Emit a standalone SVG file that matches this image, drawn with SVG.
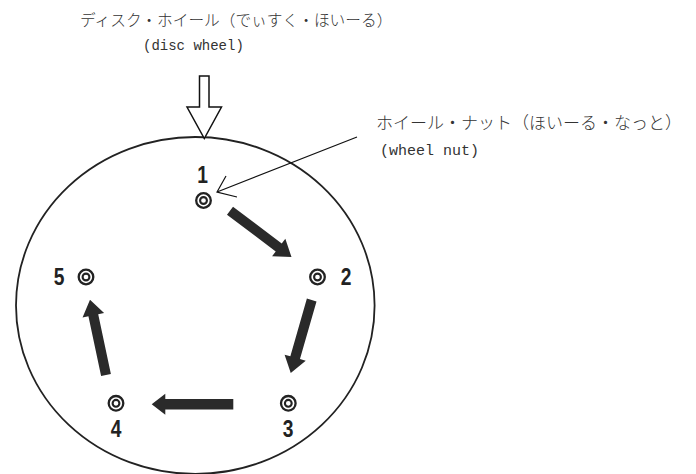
<svg xmlns="http://www.w3.org/2000/svg" width="696" height="474" viewBox="0 0 696 474">
<style>
.jp{font-family:"Noto Sans CJK JP","Noto Sans CJK SC",sans-serif;fill:#333;font-weight:300}
.en{font-family:"Liberation Mono",monospace;fill:#333}
.num{font-family:"Liberation Sans",Arial,sans-serif;font-weight:bold;font-size:24px;fill:#222;text-anchor:middle}
.ring{fill:none;stroke:#222}
.big{fill:#2a2a2a}
.thin{fill:none;stroke:#111;stroke-width:1.2}
</style>
<defs>
<g id="nut">
<circle class="ring" r="7.3" stroke-width="2.3"/>
<circle class="ring" r="3.4" stroke-width="2.1"/>
</g>
</defs>
<rect width="696" height="474" fill="#fff"/>
<g id="wheel">
<ellipse cx="195.3" cy="305.5" rx="179.3" ry="168.5" fill="none" stroke="#222" stroke-width="1.8"/>
</g>
<g id="label-disc">
<text class="jp" x="80" y="25.5" font-size="15.7">ディスク・ホイール（でぃすく・ほいーる）</text>
<text class="en" x="143" y="50" font-size="14">(disc wheel)</text>
</g>
<g id="label-nut">
<text class="jp" x="376" y="129" font-size="17">ホイール・ナット（ほいーる・なっと）</text>
<text class="en" x="380" y="155" font-size="15">(wheel nut)</text>
</g>
<g id="nut1"><use href="#nut" x="203.5" y="200.5"/><text class="num" transform="translate(202.5,183) scale(0.8,1)">1</text></g>
<g id="nut2"><use href="#nut" x="317.5" y="277"/><text class="num" transform="translate(346,285) scale(0.8,1)">2</text></g>
<g id="nut3"><use href="#nut" x="288.3" y="403.3"/><text class="num" transform="translate(288,437) scale(0.8,1)">3</text></g>
<g id="nut4"><use href="#nut" x="116" y="403.3"/><text class="num" transform="translate(116,437) scale(0.8,1)">4</text></g>
<g id="nut5"><use href="#nut" x="86" y="277"/><text class="num" transform="translate(59,285) scale(0.8,1)">5</text></g>
<g id="connectors">
<polygon points="199.5,76 209,76 209,107 221.5,107 204.3,138.5 187,107 199.5,107" fill="#fff" stroke="#111" stroke-width="1.5" stroke-linejoin="miter"/>
<path class="thin" d="M357,137 L217,192 M226,176 L217,192 L237,197"/>
<polygon class="big" transform="translate(230,210.7) rotate(37)" points="0,-5 61,-5 61,-11 77,0 61,11 61,5 0,5"/>
<polygon class="big" transform="translate(311.7,300) rotate(106)" points="0,-5 60,-5 60,-11 76,0 60,11 60,5 0,5"/>
<polygon class="big" transform="translate(233.3,404.3) rotate(180)" points="0,-5.3 68,-5.3 68,-10.5 81.6,0 68,10.5 68,5.3 0,5.3"/>
<polygon class="big" transform="translate(106,375) rotate(258)" points="0,-5 61,-5 61,-11 77,0 61,11 61,5 0,5"/>
</g>
</svg>
